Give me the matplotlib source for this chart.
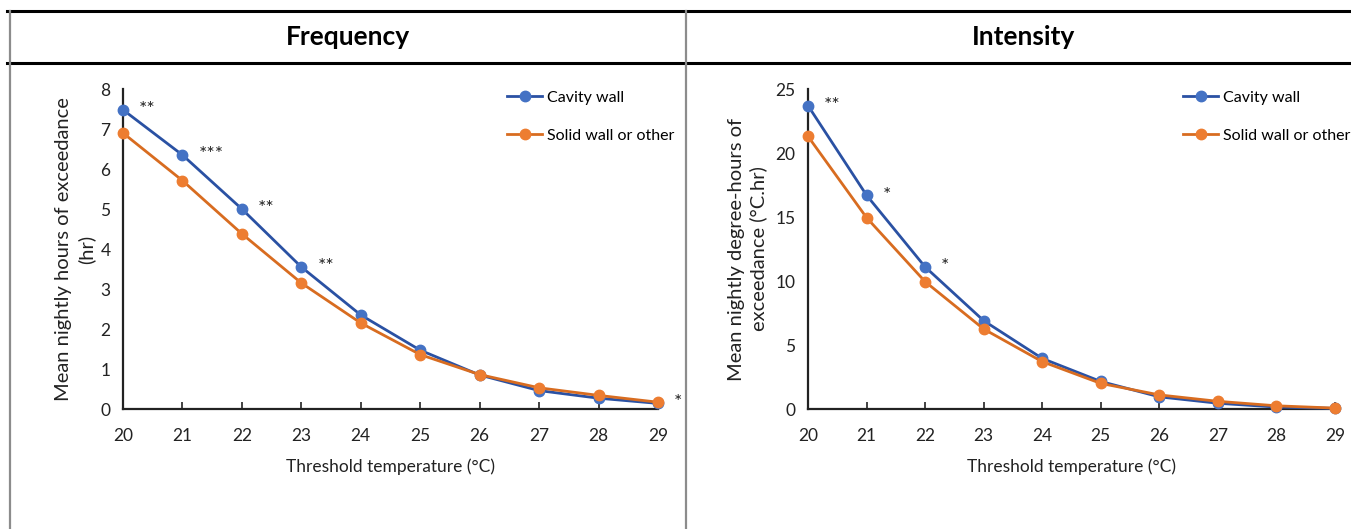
import matplotlib
matplotlib.use("Agg")
import matplotlib.pyplot as plt
from matplotlib.lines import Line2D

plt.rcParams['font.family'] = ['Lato', 'DejaVu Sans']

# Threshold temperatures (°C)
thresholds = [20, 21, 22, 23, 24, 25, 26, 27, 28, 29]

# Mean nightly hours of exceedance (hr)
freq_cavity = [7.48, 6.35, 5.0, 3.55, 2.35, 1.47, 0.85, 0.46, 0.27, 0.14]
freq_solid = [6.9, 5.71, 4.38, 3.15, 2.15, 1.36, 0.86, 0.53, 0.34, 0.17]
freq_sig = [(20, 7.48, '**'), (21, 6.35, '***'), (22, 5.0, '**'), (23, 3.55, '**'), (29, 0.17, '*')]

# Mean nightly degree-hours of exceedance (°C.hr)
int_cavity = [23.7, 16.7, 11.1, 6.9, 3.95, 2.15, 0.95, 0.45, 0.15, 0.05]
int_solid = [21.3, 14.95, 9.95, 6.25, 3.7, 2.0, 1.1, 0.6, 0.25, 0.07]
int_sig = [(20, 23.7, '**'), (21, 16.7, '*'), (22, 11.1, '*')]

series_labels = ['Cavity wall', 'Solid wall or other']
panel_titles = ['Frequency', 'Intensity']
x_label = 'Threshold temperature (°C)'
y_labels = ['Mean nightly hours of exceedance\n(hr)',
            'Mean nightly degree-hours of\nexceedance (°C.hr)']

BLUE_LINE, BLUE_MK = '#2A51A3', '#4472C4'
ORANGE_LINE, ORANGE_MK = '#D86C20', '#ED7D31'

W, H = 1351, 529
fig = plt.figure(figsize=(W / 100, H / 100), dpi=100)


def px_box(x0, x1, y_top, y_bot):
    return [x0 / W, 1 - y_bot / H, (x1 - x0) / W, (y_bot - y_top) / H]


ax1 = fig.add_axes(px_box(123, 658, 89, 409))
ax2 = fig.add_axes(px_box(808, 1335, 89, 409))

panels = [
    (ax1, freq_cavity, freq_solid, freq_sig, (0, 8), range(0, 9), y_labels[0], 0.718, 4),
    (ax2, int_cavity, int_solid, int_sig, (0, 25), range(0, 26, 5), y_labels[1], 0.712, 6),
]

for ax, cav, sol, sig, ylim, yticks, ylab, leg_x, ypad in panels:
    ax.plot(thresholds, cav, color=BLUE_LINE, lw=2.0, marker='o', ms=7.5,
            mfc=BLUE_MK, mec=BLUE_MK, label=series_labels[0], clip_on=False, zorder=3)
    ax.plot(thresholds, sol, color=ORANGE_LINE, lw=2.0, marker='o', ms=7.5,
            mfc=ORANGE_MK, mec=ORANGE_MK, label=series_labels[1], clip_on=False, zorder=4)
    ax.set_xlim(20, 29)
    ax.set_ylim(*ylim)
    ax.set_xticks(thresholds)
    ax.set_yticks(list(yticks))
    for s in ['top', 'right']:
        ax.spines[s].set_visible(False)
    for s in ['left', 'bottom']:
        ax.spines[s].set_linewidth(1.6)
        ax.spines[s].set_color('#222222')
    ax.tick_params(axis='x', direction='in', length=5, width=1.2, pad=14,
                   labelsize=12.5, colors='#222222')
    ax.tick_params(axis='y', direction='out', length=0, width=1.2, pad=9,
                   labelsize=12.5, colors='#222222')
    ax.set_xlabel(x_label, fontsize=12.5, labelpad=10, color='#222222')
    ax.set_ylabel(ylab, fontsize=14.5, labelpad=ypad, color='#222222',
                  linespacing=1.3)
    # significance markers beside the cavity-wall points
    for xv, yv, txt in sig:
        ax.text(xv + 0.27, yv, txt, fontsize=14, ha='left',
                va='center', color='#222222', clip_on=False)
    ax.legend(loc='upper left', bbox_to_anchor=(leg_x, 0.995), frameon=False,
              handlelength=2.2, handletextpad=0.3, labelspacing=1.5,
              borderpad=0, borderaxespad=0, fontsize=11.5)

# table frame around the two panels
fig.add_artist(Line2D([7 / W, 1], [1 - 11 / H] * 2, color='black', lw=2.2,
                      transform=fig.transFigure))
fig.add_artist(Line2D([7 / W, 1], [1 - 63 / H] * 2, color='black', lw=2.2,
                      transform=fig.transFigure))
for xp in (10, 686):
    fig.add_artist(Line2D([xp / W] * 2, [0, 1 - 11 / H], color='#8c8c8c',
                          lw=1.6, transform=fig.transFigure))

fig.text(348 / W, 1 - 37 / H, panel_titles[0], ha='center', va='center',
         fontsize=19, fontweight='bold', color='black')
fig.text(1024 / W, 1 - 37 / H, panel_titles[1], ha='center', va='center',
         fontsize=19, fontweight='bold', color='black')

fig.savefig('out.png', dpi=100, facecolor='white')
